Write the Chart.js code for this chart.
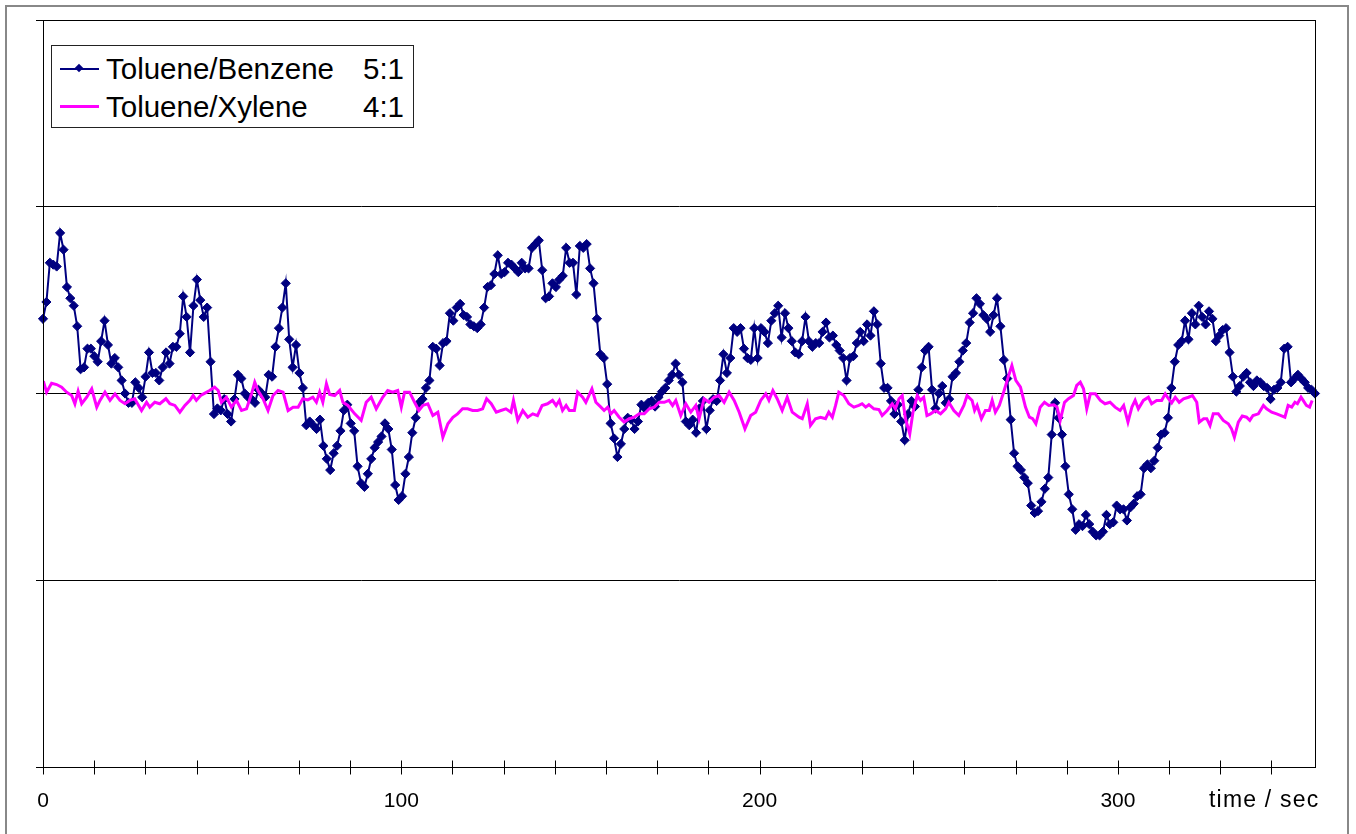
<!DOCTYPE html>
<html>
<head>
<meta charset="utf-8">
<script src="https://cdn.jsdelivr.net/npm/chart.js@4/dist/chart.umd.min.js"></script>
<style>
  html, body { margin: 0; padding: 0; background: #fff; }
  body { width: 1356px; height: 834px; position: relative; overflow: hidden;
         font-family: 'Liberation Sans', Arial, sans-serif; }
  #frame { position: absolute; left: 5px; top: 5px; width: 1344px; height: 840px;
           border: 2px solid #888; box-sizing: border-box; pointer-events: none; }
  #chart { position: absolute; left: 0; top: 0; }
  #legend { position: absolute; left: 51px; top: 45px; width: 363px; height: 83px;
            border: 1px solid #222; box-sizing: border-box; background: #fff; }
  #legend .row { position: absolute; left: 0; right: 0; height: 38px; line-height: 38px;
                 font-size: 29.5px; color: #000; }
  #legend .line { position: absolute; left: 8px; width: 39px; }
  #legend .name { position: absolute; left: 54px; }
  #legend .ratio { position: absolute; right: 9px; }
  #legend .diamond { position: absolute; width: 6px; height: 6px; background: #000080;
                     transform: rotate(45deg); left: 24px; top: 15px; }
  #xtitle { position: absolute; left: 1209px; top: 786px; font-size: 23px;
            letter-spacing: 1.2px; color: #000; white-space: nowrap; }
</style>
</head>
<body>
<canvas id="chart" width="1356" height="834"></canvas>
<div id="frame"></div>
<div id="legend">
  <div class="row" style="top:4px">
    <span class="line" style="top:18px;height:2px;background:#000080"></span>
    <span class="diamond"></span>
    <span class="name">Toluene/Benzene</span><span class="ratio">5:1</span>
  </div>
  <div class="row" style="top:42px">
    <span class="line" style="top:17px;height:3px;background:#ff00ff"></span>
    <span class="name">Toluene/Xylene</span><span class="ratio">4:1</span>
  </div>
</div>
<div id="xtitle">time / sec</div>
<script>
// Toluene/Benzene ratio signal, one sample per step
const benzeneValues = [
  0.40, 0.49, 0.70, 0.69, 0.68, 0.86, 0.77, 0.57, 0.51, 0.47,
  0.36, 0.13, 0.14, 0.24, 0.24, 0.20, 0.17, 0.28, 0.39, 0.26,
  0.16, 0.19, 0.14, 0.07, 0.00, -0.05, -0.05, 0.06, 0.03, -0.02,
  0.09, 0.22, 0.11, 0.11, 0.07, 0.14, 0.22, 0.16, 0.25, 0.25,
  0.32, 0.52, 0.41, 0.22, 0.47, 0.61, 0.50, 0.41, 0.46, 0.17,
  -0.11, -0.08, -0.09, -0.03, -0.11, -0.15, -0.03, 0.10, 0.08, 0.00,
  -0.02, -0.03, -0.05, 0.02, 0.00, -0.02, 0.10, 0.09, 0.25, 0.35,
  0.46, 0.59, 0.29, 0.14, 0.26, 0.11, 0.03, -0.17, -0.15, -0.17,
  -0.19, -0.14, -0.28, -0.35, -0.41, -0.32, -0.28, -0.20, -0.09, -0.06,
  -0.16, -0.20, -0.39, -0.48, -0.50, -0.43, -0.35, -0.29, -0.26, -0.23,
  -0.16, -0.19, -0.30, -0.49, -0.57, -0.55, -0.43, -0.34, -0.21, -0.13,
  -0.05, -0.03, 0.03, 0.07, 0.25, 0.24, 0.15, 0.27, 0.28, 0.43,
  0.39, 0.46, 0.48, 0.42, 0.41, 0.37, 0.36, 0.35, 0.37, 0.46,
  0.57, 0.58, 0.64, 0.74, 0.64, 0.65, 0.70, 0.69, 0.67, 0.65,
  0.70, 0.67, 0.67, 0.78, 0.80, 0.82, 0.66, 0.51, 0.52, 0.59,
  0.57, 0.61, 0.63, 0.78, 0.70, 0.70, 0.53, 0.79, 0.78, 0.80,
  0.67, 0.59, 0.40, 0.21, 0.19, 0.05, -0.16, -0.24, -0.34, -0.27,
  -0.19, -0.13, -0.14, -0.19, -0.15, -0.06, -0.08, -0.05, -0.04, -0.07,
  -0.02, 0.01, 0.03, 0.07, 0.10, 0.16, 0.10, 0.06, -0.15, -0.17,
  -0.14, -0.21, -0.08, -0.04, -0.19, -0.09, -0.03, -0.04, 0.07, 0.21,
  0.11, 0.19, 0.35, 0.33, 0.35, 0.24, 0.19, 0.18, 0.35, 0.19,
  0.35, 0.33, 0.27, 0.39, 0.43, 0.47, 0.30, 0.43, 0.35, 0.28,
  0.22, 0.21, 0.28, 0.41, 0.28, 0.25, 0.27, 0.27, 0.33, 0.38,
  0.30, 0.31, 0.26, 0.23, 0.19, 0.07, 0.19, 0.20, 0.27, 0.33,
  0.28, 0.37, 0.31, 0.44, 0.37, 0.16, 0.03, 0.03, -0.04, -0.11,
  -0.06, -0.15, -0.25, -0.11, -0.04, -0.07, 0.02, 0.14, 0.23, 0.25,
  0.02, -0.08, 0.00, 0.04, -0.05, -0.03, 0.09, 0.11, 0.17, 0.23,
  0.27, 0.38, 0.43, 0.51, 0.48, 0.42, 0.40, 0.33, 0.42, 0.51,
  0.36, 0.18, 0.08, -0.14, -0.32, -0.39, -0.41, -0.45, -0.48, -0.60,
  -0.64, -0.63, -0.58, -0.51, -0.45, -0.22, -0.05, -0.13, -0.22, -0.39,
  -0.54, -0.62, -0.73, -0.70, -0.71, -0.65, -0.70, -0.74, -0.76, -0.76,
  -0.74, -0.65, -0.70, -0.69, -0.60, -0.62, -0.62, -0.68, -0.61, -0.59,
  -0.55, -0.54, -0.40, -0.38, -0.40, -0.36, -0.29, -0.22, -0.21, -0.13,
  0.03, 0.17, 0.26, 0.28, 0.39, 0.29, 0.43, 0.37, 0.47, 0.41,
  0.37, 0.44, 0.40, 0.28, 0.31, 0.34, 0.35, 0.22, 0.09, 0.01,
  0.04, 0.09, 0.11, 0.06, 0.04, 0.07, 0.06, 0.04, 0.03, -0.03,
  0.02, 0.03, 0.06, 0.24, 0.25, 0.06, 0.08, 0.10, 0.08, 0.06,
  0.03, 0.02, 0.00
];
const benzeneStart = 0;     // sec
const benzeneEnd = 355;     // sec, last sample

// Toluene/Xylene ratio signal (time in sec, value)
const xyleneTimes = [
  0.1, 1.0, 2.4, 3.8, 5.2, 6.6, 8.0, 8.9, 9.8, 10.8, 12.2, 13.6, 15.0, 15.9, 17.3, 18.7,
  20.1, 21.5, 22.9, 24.2, 25.6, 27.5, 28.9, 29.8, 31.2, 32.6, 34.3, 35.4, 36.8, 38.2, 39.6,
  41.0, 41.9, 42.8, 44.0, 45.2, 46.5, 47.9, 48.9, 49.8, 51.2, 52.6, 54.0, 55.4, 56.8, 58.2,
  59.1, 60.0, 61.4, 62.8, 64.2, 65.6, 67.0, 68.4, 69.8, 71.2, 72.5, 73.9, 75.3, 76.3, 77.2,
  78.1, 79.1, 80.0, 81.4, 82.8, 83.7, 85.1, 87.0, 88.8, 90.2, 91.6, 93.0, 94.8, 96.2, 97.6,
  99.0, 100.0, 100.9, 102.3, 103.7, 104.9, 106.0, 107.4, 108.8, 110.2, 111.6, 113.0, 114.4,
  115.7, 117.1, 118.5, 119.9, 121.3, 122.7, 123.8, 125.1, 126.5, 127.8, 129.2, 130.6, 131.3,
  132.5, 133.9, 135.3, 136.7, 138.0, 139.3, 140.8, 142.2, 143.2, 144.1, 145.0, 146.0, 146.9,
  148.3, 149.2, 150.6, 151.5, 153.2, 154.3, 155.7, 156.6, 157.6, 158.5, 159.4, 160.8, 162.2,
  163.6, 165.0, 166.4, 167.8, 169.2, 170.6, 172.0, 173.4, 174.7, 175.7, 176.6, 178.0, 179.4,
  180.8, 182.2, 183.1, 184.5, 185.9, 187.3, 188.7, 190.1, 191.5, 192.9, 194.3, 195.9, 197.5,
  198.9, 200.3, 201.7, 202.6, 203.7, 204.9, 206.3, 207.7, 209.1, 211.0, 211.9, 213.3, 214.2,
  215.6, 217.0, 218.4, 219.3, 220.3, 221.2, 222.1, 223.5, 224.9, 226.3, 227.7, 228.6, 229.6,
  230.5, 231.9, 233.3, 234.2, 235.6, 237.0, 237.9, 238.9, 239.8, 240.7, 241.9, 242.8, 244.0,
  244.9, 245.8, 246.7, 247.7, 249.1, 250.5, 251.9, 252.8, 254.2, 255.6, 257.0, 257.9, 259.3,
  260.0, 260.7, 261.9, 263.0, 264.1, 264.9, 265.8, 266.9, 268.1, 269.5, 270.4, 271.5, 272.8,
  274.2, 275.3, 276.2, 277.1, 278.3, 279.5, 280.7, 282.1, 283.0, 283.9, 285.1, 286.2, 287.6,
  288.5, 289.5, 290.4, 291.3, 292.3, 293.7, 295.1, 296.4, 297.8, 299.2, 300.6, 301.6, 302.8,
  303.9, 304.8, 305.7, 307.1, 308.5, 309.4, 310.8, 312.2, 313.2, 314.1, 315.0, 316.0, 317.1,
  318.3, 319.7, 320.8, 322.0, 322.7, 323.9, 324.8, 325.7, 326.6, 328.0, 329.4, 330.8, 331.7,
  332.5, 333.6, 334.7, 335.9, 336.8, 337.7, 339.2, 340.6, 341.5, 342.9, 344.3, 345.5, 346.6,
  347.5, 348.5, 349.4, 350.1, 351.1, 351.7, 352.6, 353.5, 354.2
];
const xyleneValues = [
  0.066, 0.007, 0.055, 0.048, 0.034, 0.007, -0.011, -0.055, 0.012, -0.055, -0.020, 0.025, -0.073, -0.037, 0.007, -0.037,
  -0.002, -0.037, -0.055, -0.037, -0.028, -0.091, -0.047, -0.073, -0.047, -0.055, -0.028, -0.055, -0.064, -0.100, -0.064,
  -0.037, -0.011, -0.037, -0.011, 0.002, 0.016, 0.034, 0.016, -0.047, -0.020, -0.073, -0.037, -0.091, -0.082, -0.002,
  0.060, 0.016, -0.028, -0.091, -0.011, 0.016, 0.007, -0.091, -0.073, -0.073, -0.028, -0.034, -0.020, -0.047, 0.007,
  -0.047, 0.052, -0.005, -0.011, 0.016, -0.047, -0.064, -0.109, -0.144, -0.047, -0.020, -0.082, -0.020, 0.016, 0.007,
  0.016, -0.073, 0.007, 0.007, -0.047, -0.091, -0.064, -0.055, -0.118, -0.100, -0.234, -0.162, -0.127,
  -0.109, -0.082, -0.082, -0.091, -0.091, -0.082, -0.028, -0.055, -0.100, -0.091, -0.082, -0.100, -0.037,
  -0.144, -0.091, -0.127, -0.109, -0.118, -0.064, -0.055, -0.037, -0.064, -0.037, -0.091, -0.064, -0.091,
  -0.091, 0.007, -0.020, -0.047, 0.025, -0.047, -0.073, -0.091, -0.073, -0.109, -0.091, -0.127, -0.153,
  -0.135, -0.127, -0.109, -0.109, -0.082, -0.073, -0.047, -0.047, -0.037, -0.064, -0.037, -0.118, -0.055,
  -0.100, -0.064, -0.135, -0.028, -0.047, -0.020, -0.011, -0.047, 0.007, -0.037, -0.100, -0.189, -0.118,
  -0.100, -0.037, -0.002, -0.037, 0.016, -0.028, -0.091, -0.020, -0.100, -0.127, -0.135, -0.055, -0.171,
  -0.135, -0.127, -0.135, -0.100, -0.127, -0.064, 0.007, -0.011, -0.055, -0.073, -0.064, -0.055, -0.073,
  -0.060, -0.082, -0.086, -0.118, -0.091, -0.055, -0.082, -0.028, -0.011, -0.135, -0.216, -0.100, -0.011,
  -0.037, -0.020, -0.118, -0.109, -0.091, -0.109, -0.082, -0.047, -0.091, -0.118, -0.064, -0.011, -0.037,
  -0.091, -0.064, -0.135, -0.091, -0.091, -0.037, -0.100, -0.064, 0.007, 0.096, 0.150, 0.070, 0.034,
  -0.073, -0.127, -0.135, -0.162, -0.073, -0.047, -0.064, -0.060, -0.073, -0.144, -0.047, -0.028, -0.011,
  0.043, 0.060, 0.025, -0.082, -0.002, -0.002, -0.037, -0.055, -0.047, -0.073, -0.091, -0.064, -0.153,
  -0.073, -0.037, -0.082, -0.037, -0.020, -0.055, -0.037, -0.037, -0.002, -0.028, -0.050, -0.020, -0.047,
  -0.028, -0.020, -0.011, -0.047, -0.153, -0.135, -0.135, -0.171, -0.109, -0.109, -0.144, -0.162, -0.189,
  -0.234, -0.153, -0.121, -0.127, -0.144, -0.118, -0.109, -0.064, -0.082, -0.100, -0.109, -0.118, -0.127,
  -0.064, -0.073, -0.047, -0.055, -0.020, -0.037, -0.064, -0.073, -0.037
];

// Axis settings
const xMin = 0;
const xMax = 355;
const xLabelValues = [0, 100, 200, 300];
const xTicksPerLabel = 7;   // minor tick marks between labelled values
const yMin = -2;
const yMax = 2;

const benzeneStep = (benzeneEnd - benzeneStart) / (benzeneValues.length - 1);
const benzenePoints = benzeneValues.map((v, i) => ({ x: benzeneStart + i * benzeneStep, y: v }));
const xylenePoints = xyleneTimes.map((t, i) => ({ x: t, y: xyleneValues[i] }));

const tickInterval = (xLabelValues[1] - xLabelValues[0]) / xTicksPerLabel;
const xTickValues = [];
for (let k = 0; k * tickInterval <= xMax + 1e-9; k++) xTickValues.push(k * tickInterval);

// Tick marks that cross the x axis, and the plot area frame
const frameAndTicks = {
  id: 'frameAndTicks',
  afterDraw(chart) {
    const { ctx, chartArea, scales } = chart;
    ctx.save();
    ctx.strokeStyle = '#000';
    ctx.lineWidth = 1;
    ctx.strokeRect(Math.round(chartArea.left) + 0.5, Math.round(chartArea.top) + 0.5,
      Math.round(chartArea.right - chartArea.left), Math.round(chartArea.bottom - chartArea.top));
    ctx.beginPath();
    const yb = Math.round(chartArea.bottom) + 0.5;
    scales.x.ticks.forEach(t => {
      const px = Math.round(scales.x.getPixelForValue(t.value)) + 0.5;
      ctx.moveTo(px, yb - 7);
      ctx.lineTo(px, yb + 7);
    });
    ctx.stroke();
    ctx.restore();
  }
};

new Chart(document.getElementById('chart'), {
  type: 'line',
  data: {
    datasets: [{
      label: 'Toluene/Benzene   5:1',
      data: benzenePoints,
      borderColor: '#000080',
      backgroundColor: '#000080',
      borderWidth: 2,
      pointStyle: 'rectRot',
      pointRadius: 4.6,
      pointBorderWidth: 1,
      pointBorderColor: '#000080',
      pointBackgroundColor: '#000080',
      tension: 0,
      clip: 10,
      order: 2
    }, {
      label: 'Toluene/Xylene   4:1',
      data: xylenePoints,
      borderColor: '#ff00ff',
      backgroundColor: '#ff00ff',
      borderWidth: 3,
      pointRadius: 0,
      tension: 0,
      order: 1
    }]
  },
  options: {
    responsive: false,
    animation: false,
    layout: { padding: { left: 0, top: 20, right: 41, bottom: 0 } },
    plugins: {
      legend: { display: false },
      tooltip: { enabled: false },
      title: { display: false }
    },
    scales: {
      x: {
        type: 'linear',
        min: xMin,
        max: xMax,
        afterBuildTicks: scale => { scale.ticks = xTickValues.map(v => ({ value: v })); },
        afterFit: scale => { scale.height = 67; },
        grid: { display: false, drawTicks: false },
        border: { display: true, color: '#000', width: 1 },
        ticks: {
          autoSkip: false,
          maxRotation: 0,
          padding: 22,
          color: '#000',
          font: { family: "'Liberation Sans', Arial, sans-serif", size: 21 },
          callback: (v) => {
            const hit = xLabelValues.find(l => Math.abs(l - v) < 1e-6);
            return hit === undefined ? '' : String(hit);
          }
        }
      },
      y: {
        min: yMin,
        max: yMax,
        afterFit: scale => { scale.width = 43; },
        grid: { color: '#000', lineWidth: 1, tickLength: 7, drawTicks: true },
        border: { display: true, color: '#000', width: 1 },
        ticks: { stepSize: 1, display: false }
      }
    }
  },
  plugins: [frameAndTicks]
});
</script>
</body>
</html>
